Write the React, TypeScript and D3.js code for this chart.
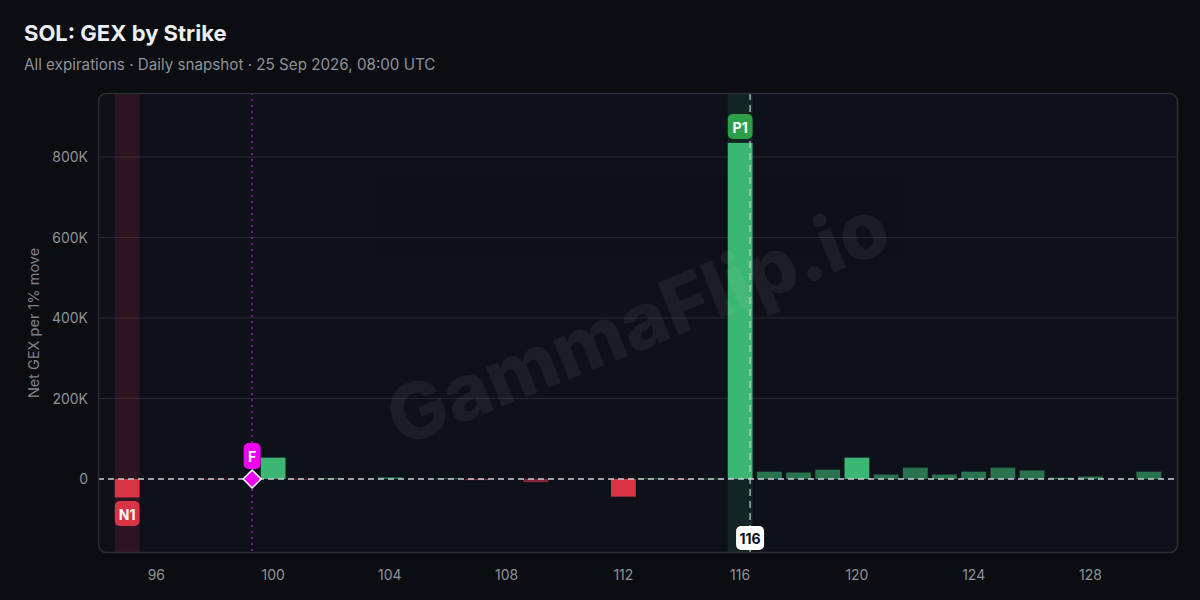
import React from "react";
import * as d3 from "d3";

const strikes = [95,96,97,98,99,100,101,102,103,104,105,106,107,108,109,110,111,112,113,114,115,116,117,118,119,120,121,122,123,124,125,126,127,128,129,130];
const gexK = [-46,0,0,-1,0,53,-1,1.5,0,4,0,1.5,-3,0,-8,0,0,-44,1.5,-2,1,835,18,16,23,53,11,28,11,18,28,21,3,6,0,18];
const yTicks = [0, 200000, 400000, 600000, 800000];
const xTicks = [96, 100, 104, 108, 112, 116, 120, 124, 128];
const spotPrice = 116.34;
const flipStrike = 99.28;
const posLevel = 116;
const negLevel = 95;
const title = "SOL: GEX by Strike";
const subtitle = "All expirations · Daily snapshot · 25 Sep 2026, 08:00 UTC";

const W = 1200, H = 600;
const L = 98, R = 1178, T = 93, B = 553;
const FONT = "Inter, 'Noto Sans', sans-serif";

export default function App() {
  const x = d3.scaleLinear().domain([94, 131]).range([L, R]);
  const y = d3.scaleLinear().domain([-184000, 959000]).range([B, T]);
  const bw = (x(1) - x(0)) * 0.85;
  const y0 = y(0);
  const fmt = (v: number) => (v === 0 ? "0" : d3.format("~s")(v).replace("k", "K"));
  const data = strikes.map((s, i) => ({ s, v: gexK[i] * 1000 }));
  const green = "#3cb673", red = "#d93446";

  return (
    <svg width={W} height={H} style={{ display: "block", position: "absolute", left: 0, top: 0, background: "#0b0d10" }} fontFamily={FONT}>
      <rect x={0} y={0} width={W} height={H} fill="#0b0d10" />
      <text x={24} y={41} fill="#eceef2" fontSize={22} fontWeight={700}>{title}</text>
      <text x={24} y={70} fill="#8d929b" fontSize={15.2}>{subtitle}</text>
      <defs>
        <clipPath id="plotclip">
          <rect x={L} y={T} width={R - L} height={B - T} rx={8} />
        </clipPath>
      </defs>
      <rect x={L} y={T} width={R - L} height={B - T} rx={8} fill="#0e111a" />
      <g clipPath="url(#plotclip)">
        {yTicks.filter(t => t !== 0).map(t => (
          <line key={t} x1={L} x2={R} y1={y(t)} y2={y(t)} stroke="#272a30" strokeWidth={1} />
        ))}
        <rect x={x(negLevel) - bw / 2} y={T} width={bw} height={B - T} fill={red} opacity={0.14} />
        <rect x={x(posLevel) - bw / 2} y={T} width={bw} height={B - T} fill={green} opacity={0.12} />
        {data.filter(d => d.v !== 0).map(d => {
          const strong = Math.abs(d.v) >= 40000;
          return (
            <rect key={d.s} x={x(d.s) - bw / 2} y={Math.min(y(d.v), y0)} width={bw}
              height={Math.max(Math.abs(y(d.v) - y0), 0.8)} fill={d.v > 0 ? green : red} opacity={strong ? 1 : 0.6} />
          );
        })}
        <line x1={L} x2={R} y1={y0} y2={y0} stroke="#c9cdd3" strokeWidth={1.5} strokeDasharray="6,4" />
        <line x1={x(flipStrike)} x2={x(flipStrike)} y1={T} y2={B} stroke="#9b1fae" strokeWidth={1.5} strokeDasharray="2,4" />
        <line x1={x(spotPrice)} x2={x(spotPrice)} y1={T} y2={B} stroke="#b9dcc6" strokeWidth={1.5} strokeDasharray="7,5" opacity={0.8} />
        <text x={640} y={328} transform="rotate(-22 640 328)" textAnchor="middle" dominantBaseline="middle" fontSize={78} fontWeight={800} fill="#ffffff" opacity={0.05}>GammaFlip.io</text>
      </g>
      <rect x={L + 0.5} y={T + 0.5} width={R - L - 1} height={B - T - 1} rx={8} fill="none" stroke="#2b2e35" strokeWidth={1.5} />

      {/* P1 label */}
      <rect x={x(posLevel) - bw / 2} y={114} width={bw} height={25} rx={5} fill="#2c9f48" />
      <text x={x(posLevel)} y={127} textAnchor="middle" dominantBaseline="central" fill="#ffffff" fontSize={14} fontWeight={700}>P1</text>
      {/* N1 label */}
      <rect x={x(negLevel) - bw / 2} y={501} width={bw} height={25} rx={5} fill="#d93446" />
      <text x={x(negLevel)} y={514} textAnchor="middle" dominantBaseline="central" fill="#ffffff" fontSize={14} fontWeight={700}>N1</text>
      {/* F label */}
      <rect x={x(flipStrike) - 8.5} y={443} width={17} height={26} rx={5} fill="#f000f0" />
      <text x={x(flipStrike)} y={456} textAnchor="middle" dominantBaseline="central" fill="#ffffff" fontSize={14} fontWeight={700}>F</text>
      <path d={`M${x(flipStrike)},${y0 - 9} L${x(flipStrike) + 9},${y0} L${x(flipStrike)},${y0 + 9} L${x(flipStrike) - 9},${y0} Z`} fill="#f000f0" stroke="#ffffff" strokeWidth={1.5} />
      {/* spot label */}
      <rect x={x(spotPrice) - 14} y={526} width={28} height={24} rx={5} fill="#ffffff" />
      <text x={x(spotPrice)} y={538.5} textAnchor="middle" dominantBaseline="central" fill="#0b0d10" fontSize={14} fontWeight={700}>116</text>

      {yTicks.map(t => (
        <text key={t} x={88} y={y(t)} textAnchor="end" dominantBaseline="central" fill="#8d929b" fontSize={14}>{fmt(t)}</text>
      ))}
      {xTicks.map(t => (
        <text key={t} x={x(t)} y={574} textAnchor="middle" dominantBaseline="central" fill="#8d929b" fontSize={14}>{t}</text>
      ))}
      <text transform={`translate(33,${(T + B) / 2}) rotate(-90)`} textAnchor="middle" dominantBaseline="central" fill="#7d828b" fontSize={14.5}>Net GEX per 1% move</text>
    </svg>
  );
}
